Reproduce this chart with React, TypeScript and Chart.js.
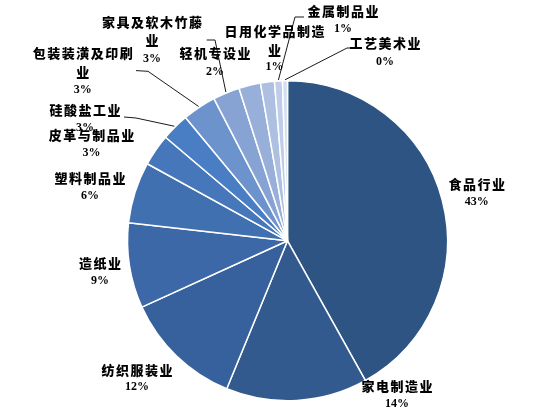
import React, { useEffect, useRef } from "react";
import { Chart, registerables } from "chart.js";

Chart.register(...registerables);

// ---- data ----
const categories = [
  "食品行业",
  "家电制造业",
  "纺织服装业",
  "造纸业",
  "塑料制品业",
  "皮革与制品业",
  "硅酸盐工业",
  "包装装潢及印刷业",
  "家具及软木竹藤业",
  "轻机专设业",
  "日用化学品制造业",
  "金属制品业",
  "工艺美术业",
];
const shares = [41.9, 14.3, 12.0, 8.6, 6.2, 3.2, 2.8, 3.4, 2.7, 2.2, 1.4, 0.8, 0.5];
const percentLabels = ["43%", "14%", "12%", "9%", "6%", "3%", "3%", "3%", "3%", "2%", "1%", "1%", "0%"];

// ---- styles / layout ----
const sliceColors = [
  "#2D5483",
  "#325A8F",
  "#37619C",
  "#3C68A7",
  "#4170B1",
  "#4677BA",
  "#4A7EC4",
  "#6C93CB",
  "#86A3D3",
  "#98B0D9",
  "#ADC0E2",
  "#BFCDE9",
  "#D4DEF0",
];

// how each category name is split into lines
const nameLines: string[][] = [
  ["食品行业"],
  ["家电制造业"],
  ["纺织服装业"],
  ["造纸业"],
  ["塑料制品业"],
  ["皮革与制品业"],
  ["硅酸盐工业"],
  ["包装装潢及印刷", "业"],
  ["家具及软木竹藤", "业"],
  ["轻机专设业"],
  ["日用化学品制造", "业"],
  ["金属制品业"],
  ["工艺美术业"],
];

// label block layout: center x, y of each line (name lines..., percent line)
const labelLayout: { x: number; ys: number[] }[] = [
  { x: 476.7, ys: [184, 202] },
  { x: 397, ys: [386.5, 403.5] },
  { x: 137, ys: [370, 387] },
  { x: 100, ys: [263.5, 281] },
  { x: 90, ys: [178.5, 195.5] },
  { x: 91.5, ys: [135.5, 153] },
  { x: 85, ys: [110.3, 127.5] },
  { x: 82.7, ys: [53.4, 72, 89.6] },
  { x: 152, ys: [22.4, 39.6, 58.6] },
  { x: 215, ys: [53.4, 72] },
  { x: 274.5, ys: [31.5, 50, 66.5] },
  { x: 343, ys: [11, 29] },
  { x: 385, ys: [43, 62] },
];

// leader lines: label-side points; the end on the pie is taken from the arc
const leaders: { index: number; pts: [number, number][] }[] = [
  { index: 6, pts: [[124, 117], [136, 118]] },
  { index: 7, pts: [[136, 70.6], [148, 71.3]] },
  { index: 8, pts: [[206.7, 40], [215, 40]] },
  { index: 11, pts: [[304, 17], [295, 17]] },
  { index: 12, pts: [[355, 48], [347, 48]] },
];

const NAME_FONT = '900 13px "Noto Sans CJK SC", "Noto Sans CJK TC", sans-serif';
const PCT_FONT = 'bold 12px "Liberation Serif", "DejaVu Serif", serif';

const labelPlugin = {
  id: "outsideLabels",
  afterDatasetsDraw(chart: any) {
    const ctx: CanvasRenderingContext2D = chart.ctx;
    const meta = chart.getDatasetMeta(0);
    ctx.save();
    // leader lines
    ctx.strokeStyle = "#1a1a1a";
    ctx.lineWidth = 1;
    leaders.forEach((ld) => {
      const arc = meta.data[ld.index] as any;
      if (!arc) return;
      const mid = (arc.startAngle + arc.endAngle) / 2;
      const r = arc.outerRadius + 1;
      const ex = arc.x + Math.cos(mid) * r;
      const ey = arc.y + Math.sin(mid) * r;
      ctx.beginPath();
      ctx.moveTo(ld.pts[0][0], ld.pts[0][1]);
      for (let k = 1; k < ld.pts.length; k++) ctx.lineTo(ld.pts[k][0], ld.pts[k][1]);
      ctx.lineTo(ex, ey);
      ctx.stroke();
    });
    // labels
    ctx.fillStyle = "#000000";
    ctx.textAlign = "center";
    ctx.textBaseline = "middle";
    categories.forEach((_, i) => {
      const lay = labelLayout[i];
      const lines = nameLines[i];
      ctx.font = NAME_FONT;
      (ctx as any).letterSpacing = "1.5px";
      lines.forEach((ln, k) => {
        ctx.fillText(ln, lay.x + 0.75, lay.ys[k]);
      });
      ctx.font = PCT_FONT;
      (ctx as any).letterSpacing = "0px";
      ctx.fillText(percentLabels[i], lay.x, lay.ys[lines.length]);
    });
    ctx.restore();
  },
};

export default function App() {
  const canvasRef = useRef<HTMLCanvasElement | null>(null);

  useEffect(() => {
    document.body.style.margin = "0";
    const canvas = canvasRef.current;
    if (!canvas) return;
    const chart = new Chart(canvas, {
      type: "pie",
      data: {
        labels: categories,
        datasets: [
          {
            data: shares,
            backgroundColor: sliceColors,
            borderColor: "#FFFFFF",
            borderWidth: 1.5,
            hoverBorderWidth: 1.5,
            hoverOffset: 0,
          },
        ],
      },
      options: {
        responsive: false,
        animation: false,
        events: [],
        layout: {
          padding: { left: 126.75, top: 80.05, right: 91.75, bottom: 10.45 },
        },
        plugins: {
          legend: { display: false },
          tooltip: { enabled: false },
        },
      },
      plugins: [labelPlugin],
    });
    return () => chart.destroy();
  }, []);

  return (
    <div style={{ position: "absolute", left: 0, top: 0, width: 540, height: 412, background: "#FFFFFF" }}>
      <canvas ref={canvasRef} width={540} height={412} style={{ width: 540, height: 412 }} />
    </div>
  );
}
